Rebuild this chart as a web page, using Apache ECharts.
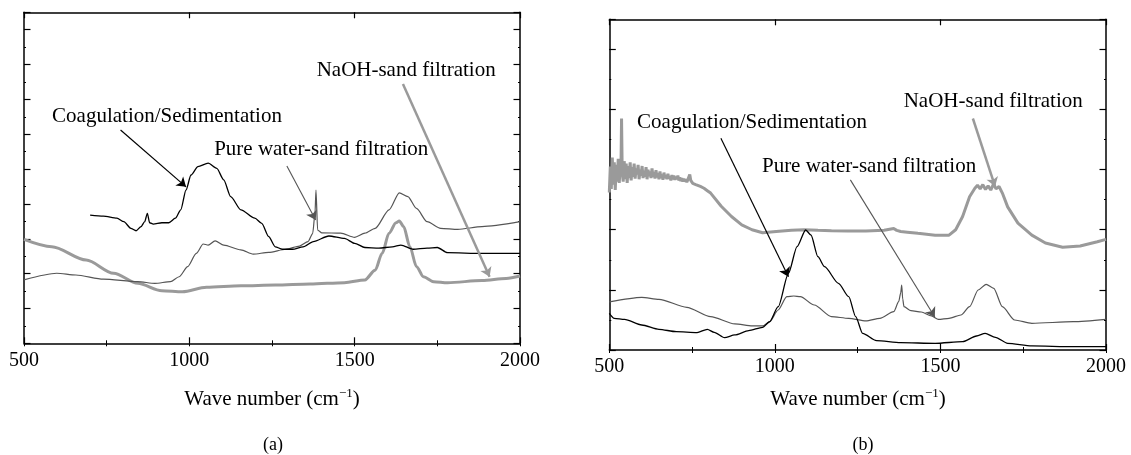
<!DOCTYPE html>
<html><head><meta charset="utf-8">
<script src="https://cdn.jsdelivr.net/npm/echarts@6/dist/echarts.min.js"></script>
<style>html,body{margin:0;padding:0;background:#fff}#c{width:1131px;height:455px}</style>
</head><body><div id="c"></div>
<script>
// ---- data (wave number, relative absorbance) ----
const xTickLabels = [500, 1000, 1500, 2000];

// Panel (a)
const aCoagX = [700,740,781,802,823,839,854,865,873,880,891,917,938,958,974,990,1005,1026,1057,1083,1104,1125,1156,1198,1219,1240,1260,1281,1312,1344,1375,1422,1469,1500,1531,1573,1614,1640,1677,1719,1750,1781,1885,2000];
const aCoagY = [3.68,3.65,3.59,3.49,3.30,3.23,3.35,3.49,3.73,3.46,3.42,3.46,3.46,3.59,3.83,4.40,4.83,5.07,5.17,5.02,4.69,4.21,3.83,3.59,3.44,3.06,2.77,2.70,2.70,2.77,2.92,3.08,3.01,2.87,2.75,2.73,2.77,2.82,2.70,2.73,2.75,2.60,2.58,2.58];
const aPureX = [500,599,657,740,844,896,943,969,995,1021,1042,1057,1078,1104,1156,1193,1240,1292,1333,1359,1373,1380,1383,1388,1401,1458,1500,1531,1562,1604,1635,1661,1687,1719,1760,1812,1885,2000];
const aPureY = [1.82,2.01,1.96,1.84,1.77,1.72,1.77,1.91,2.20,2.58,2.85,2.82,2.94,2.82,2.68,2.56,2.61,2.70,2.79,2.92,3.15,3.73,4.40,3.25,3.17,3.16,3.04,3.16,3.30,3.83,4.32,4.21,3.87,3.49,3.30,3.27,3.35,3.49];
const aNaohX = [500,584,688,771,844,917,979,1052,1156,1260,1365,1469,1531,1562,1583,1604,1625,1635,1648,1667,1687,1708,1739,1781,1885,1958,2000];
const aNaohY = [2.98,2.77,2.39,2.01,1.72,1.51,1.48,1.61,1.65,1.67,1.70,1.74,1.82,2.10,2.58,3.16,3.46,3.51,3.35,2.77,2.20,1.91,1.77,1.74,1.80,1.86,1.93];

// Panel (b)
const bCoagX = [500,515,546,598,650,702,765,796,817,848,879,921,963,984,1010,1041,1067,1093,1109,1130,1150,1192,1223,1244,1265,1307,1380,1484,1567,1609,1635,1666,1703,1776,1901,2000];
const bCoagY = [0.61,0.527,0.51,0.416,0.344,0.305,0.289,0.344,0.294,0.205,0.25,0.322,0.377,0.47,0.72,1.275,1.719,1.996,1.913,1.552,1.386,1.109,0.887,0.555,0.277,0.156,0.122,0.111,0.139,0.233,0.277,0.211,0.111,0.067,0.056,0.056];
const bPureX = [500,598,650,734,806,879,932,963,984,1010,1036,1057,1077,1119,1171,1223,1275,1317,1359,1374,1380,1383,1386,1390,1411,1442,1473,1494,1526,1562,1588,1614,1638,1661,1687,1724,1776,1901,2000];
const bPureY = [0.80,0.876,0.843,0.71,0.555,0.433,0.40,0.40,0.47,0.665,0.887,0.898,0.887,0.748,0.555,0.527,0.483,0.527,0.637,0.804,0.95,1.08,0.85,0.72,0.654,0.632,0.566,0.51,0.527,0.582,0.72,0.998,1.092,1.025,0.72,0.499,0.444,0.471,0.51];
const bNaohX = [500,503,506,509,512,515,518,521,524,527,530,533,535,537,539,542,545,548,551,554,557,560,563,566,569,572,575,578,581,584,587,590,593,596,599,602,605,608,611,614,617,620,623,626,629,632,635,638,641,644,647,650,653,656,659,662,665,668,671,674,677,680,683,686,689,692,695,698,701,704,707,710,713,716,719,722,725,728,731,734,737,740,743,746,749,752,755,758,761,775,786,796,806,838,869,900,931,963,1004,1050,1088,1130,1171,1220,1275,1330,1359,1368,1380,1400,1432,1484,1526,1546,1567,1588,1604,1612,1620,1628,1636,1644,1652,1660,1668,1677,1687,1703,1734,1776,1817,1869,1922,1974,2000];
const bNaohY = [2.62,3.05,2.68,3.20,2.75,3.12,2.66,3.08,2.80,3.18,2.78,3.05,2.90,3.85,2.95,2.80,3.14,2.84,3.10,2.78,3.06,2.86,3.12,2.82,3.04,2.88,3.10,2.85,3.02,2.92,3.08,2.84,3.00,2.90,3.06,2.86,2.98,2.88,3.04,2.84,3.00,2.89,2.97,2.86,3.02,2.88,2.96,2.85,2.99,2.87,2.94,2.84,2.97,2.86,2.92,2.83,2.95,2.86,2.91,2.84,2.93,2.85,2.89,2.82,2.91,2.84,2.90,2.83,2.88,2.84,2.90,2.82,2.87,2.81,2.86,2.80,2.85,2.80,2.84,2.79,2.83,2.86,2.92,2.82,2.80,2.77,2.78,2.74,2.75,2.72,2.69,2.65,2.61,2.39,2.22,2.08,2.00,1.95,1.97,1.99,2.00,1.99,1.985,1.98,1.98,1.99,2.02,1.99,1.97,1.96,1.94,1.91,1.91,2.00,2.22,2.55,2.69,2.74,2.68,2.75,2.67,2.73,2.66,2.76,2.68,2.72,2.61,2.38,2.11,1.91,1.78,1.71,1.73,1.80,1.84];

// annotations (data coordinates)
const labelTexts = ['Coagulation/Sedimentation', 'Pure water-sand filtration', 'NaOH-sand filtration'];
const aLabelPos = [[585, 6.50], [1075, 5.55], [1385, 7.84]];
const aArrows = [[[792, 6.12], [990, 4.49]], [[1295, 5.09], [1382, 3.54]], [[1646, 7.44], [1908, 1.91]]];
const bLabelPos = [[584, 3.79], [961, 3.05], [1389, 4.13]];
const bArrows = [[[837, 3.52], [1041, 1.22]], [[1228, 2.83], [1483, 0.55]], [[1598, 3.85], [1665, 2.72]]];
const yMaxA = 9.5, yMaxB = 5.5;

const FONT = 'Liberation Serif';
const pairs = (xs, ys) => xs.map((x, i) => [x, ys[i]]);

function xAxesFor(gi) {
  const base = {gridIndex: gi, type: 'value', min: 500, max: 2000, splitLine: {show: false}};
  return [
    Object.assign({}, base, {position: 'bottom', interval: 500,
      axisLine: {show: true, onZero: false, lineStyle: {color: '#000', width: 1.5}},
      axisTick: {show: true, inside: true, length: 6, lineStyle: {color: '#000', width: 1.2}},
      axisLabel: {show: true, margin: 7, fontFamily: FONT, fontSize: 20, color: '#000',
        formatter: v => xTickLabels.indexOf(v) >= 0 ? String(v) : ''}}),
    Object.assign({}, base, {position: 'bottom', interval: 250, axisLine: {show: false},
      axisTick: {show: true, inside: true, length: 3, lineStyle: {color: '#000', width: 1}}, axisLabel: {show: false}}),
    Object.assign({}, base, {position: 'top', interval: 500,
      axisLine: {show: true, onZero: false, lineStyle: {color: '#000', width: 1.5}},
      axisTick: {show: true, inside: true, length: 6, lineStyle: {color: '#000', width: 1.2}}, axisLabel: {show: false}}),
    Object.assign({}, base, {position: 'top', interval: 250, axisLine: {show: false},
      axisTick: {show: true, inside: true, length: 3, lineStyle: {color: '#000', width: 1}}, axisLabel: {show: false}})
  ];
}
function yAxesFor(gi, ymax) {
  const base = {gridIndex: gi, type: 'value', min: 0, max: ymax, splitLine: {show: false}, axisLabel: {show: false}};
  return [
    Object.assign({}, base, {position: 'left', interval: 1,
      axisLine: {show: true, onZero: false, lineStyle: {color: '#000', width: 1.5}},
      axisTick: {show: true, inside: true, length: 6.5, lineStyle: {color: '#000', width: 1.2}}}),
    Object.assign({}, base, {position: 'left', interval: 0.5, axisLine: {show: false},
      axisTick: {show: true, inside: true, length: 2, lineStyle: {color: '#000', width: 1}}}),
    Object.assign({}, base, {position: 'right', interval: 1,
      axisLine: {show: true, onZero: false, lineStyle: {color: '#000', width: 1.5}},
      axisTick: {show: true, inside: true, length: 6.5, lineStyle: {color: '#000', width: 1.2}}}),
    Object.assign({}, base, {position: 'right', interval: 0.5, axisLine: {show: false},
      axisTick: {show: true, inside: true, length: 2, lineStyle: {color: '#000', width: 1}}})
  ];
}

const COL = {coag: '#000000', pure: '#555555', naoh: '#9a9a9a'};
const WID = {coag: 1.3, pure: 1.2, naoh: 3};
const ARW = {coag: 1.2, pure: 1.1, naoh: 2.5};

function lineSeries(name, key, xs, ys, axIdx, arrow, smooth) {
  return {
    name, type: 'line', xAxisIndex: axIdx, yAxisIndex: axIdx, data: pairs(xs, ys),
    showSymbol: false, symbol: 'none', smooth: smooth, smoothMonotone: 'x', animation: false, silent: true,
    lineStyle: {color: COL[key], width: WID[key]}, z: key === 'naoh' ? 2 : 3,
    markLine: {silent: true, animation: false, symbol: ['none', 'arrow'], symbolSize: 9,
      label: {show: false},
      lineStyle: {color: COL[key], width: ARW[key], type: 'solid'},
      emphasis: {disabled: true},
      data: [[{coord: arrow[0]}, {coord: arrow[1]}]]}
  };
}

const chart = echarts.init(document.getElementById('c'), null, {renderer: 'canvas'});
const option = {
  backgroundColor: '#fff',
  animation: false,
  grid: [
    {left: 24, top: 12.3, width: 496, height: 331, containLabel: false},
    {left: 609.3, top: 19.3, width: 496.7, height: 330.7, containLabel: false}
  ],
  xAxis: xAxesFor(0).concat(xAxesFor(1)),
  yAxis: yAxesFor(0, yMaxA).concat(yAxesFor(1, yMaxB)),
  series: [
    lineSeries(labelTexts[2] + ' (a)', 'naoh', aNaohX, aNaohY, 0, aArrows[2], 0.3),
    lineSeries(labelTexts[1] + ' (a)', 'pure', aPureX, aPureY, 0, aArrows[1], 0.25),
    lineSeries(labelTexts[0] + ' (a)', 'coag', aCoagX, aCoagY, 0, aArrows[0], 0.25),
    lineSeries(labelTexts[2] + ' (b)', 'naoh', bNaohX, bNaohY, 4, bArrows[2], false),
    lineSeries(labelTexts[1] + ' (b)', 'pure', bPureX, bPureY, 4, bArrows[1], 0.25),
    lineSeries(labelTexts[0] + ' (b)', 'coag', bCoagX, bCoagY, 4, bArrows[0], 0.25)
  ]
};
chart.setOption(option);

// annotation texts placed through the chart's own scales
const graphics = [];
function addLabels(posArr, seriesIndex) {
  posArr.forEach((p, i) => {
    const px = chart.convertToPixel({seriesIndex}, p);
    graphics.push({type: 'text', x: px[0], y: px[1], silent: true,
      style: {text: labelTexts[i], fontFamily: FONT, fontSize: 21, fill: '#000', align: 'left', verticalAlign: 'middle'}});
  });
}
addLabels(aLabelPos, 0);
addLabels(bLabelPos, 3);

function axisName(cx, cy) {
  return {type: 'text', x: cx, y: cy, silent: true,
    style: {text: '{n|Wave number (cm}{s|−1}{n|)}', align: 'center', verticalAlign: 'middle',
      rich: {n: {fontFamily: FONT, fontSize: 21, fill: '#000'},
             s: {fontFamily: FONT, fontSize: 13, fill: '#000', padding: [0, 0, 10, 0]}}}};
}
graphics.push(axisName(272, 399));
graphics.push(axisName(858, 399));
graphics.push({type: 'text', x: 273, y: 445, silent: true, style: {text: '(a)', fontFamily: FONT, fontSize: 18, fill: '#000', align: 'center', verticalAlign: 'middle'}});
graphics.push({type: 'text', x: 863, y: 445, silent: true, style: {text: '(b)', fontFamily: FONT, fontSize: 18, fill: '#000', align: 'center', verticalAlign: 'middle'}});
chart.setOption({graphic: graphics});
</script>
</body></html>
